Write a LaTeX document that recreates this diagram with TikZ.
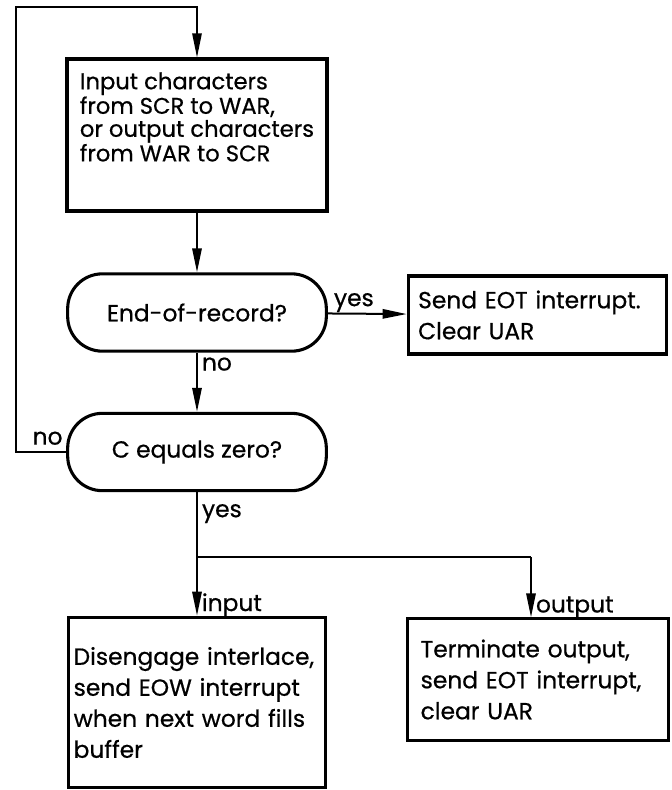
\documentclass[tikz,border=0pt]{standalone}
\usepackage{fontspec}
\setmainfont{Poppins}[FakeBold=0.6]
\usetikzlibrary{arrows.meta,positioning}

\begin{document}
\begin{tikzpicture}[x=0.75pt, y=-0.75pt]
\tikzstyle{proc}=[draw, line width=2.3pt, rectangle, align=left, inner sep=0pt,
  font=\fontsize{17.5}{23.25}\selectfont]
\tikzstyle{test}=[draw, line width=2.3pt, rectangle, rounded corners=26pt,
  minimum width=194pt, minimum height=58pt, font=\fontsize{17.5}{21}\selectfont]
\tikzstyle{flow}=[-{Triangle[length=18pt, width=7pt]}, line width=1.5pt]
\tikzstyle{wire}=[line width=1.5pt]
\tikzstyle{tag}=[font=\fontsize{17.5}{21}\selectfont, inner sep=3pt,
  text height=1.5ex, text depth=.35ex]
\useasboundingbox (0,0) rectangle (672,790);

\node[proc, minimum width=195pt, minimum height=114pt,
  font=\fontsize{17}{17.25}\selectfont] (chars) at (197,135)
  {Input characters\\from SCR to WAR,\\or output characters\\from WAR to SCR\\\rule{0pt}{26pt}};
\node[test] (eor) at (197,312.5) {End-of-record?};
\node[proc, minimum width=194pt, minimum height=58.5pt, text width=179pt] (eot) at (537.5,315)
  {Send EOT interrupt.\\Clear UAR};
\node[test] (zero) at (197,452) {C equals zero?};
\node[proc, minimum width=193pt, minimum height=128pt, text width=185pt] (ilace) at (197,702.5)
  {Disengage interlace,\\send EOW interrupt\\when next word fills\\buffer};
\node[proc, minimum width=196pt, minimum height=91pt, text width=176pt] (term) at (538,679.5)
  {Terminate output,\\send EOT interrupt,\\clear UAR};

\coordinate (lb) at (16,452);
\coordinate (lt) at (16,7);
\coordinate (split) at (197,557);
\coordinate (rsplit) at (531,557);

\draw[flow] (chars) -- (eor);
\draw[flow] (eor) -- node[tag, above, pos=0.33] {yes} (eot);
\draw[flow] (eor) -- node[tag, right, pos=0.23] {no} (zero);
\draw[flow, line width=1.2pt] (zero) -- node[tag, above, pos=0.37] {no} (lb) -- (lt) -| (chars);
\draw[wire] (zero) -- node[tag, right, pos=0.32] {yes} (split);
\draw[wire] (split) -- (rsplit);
\draw[flow] (split) -- node[tag, right, pos=0.85] {input} (ilace);
\draw[flow] (rsplit) -- node[tag, right, pos=0.85] {output} (rsplit |- term.north);
\end{tikzpicture}
\end{document}
